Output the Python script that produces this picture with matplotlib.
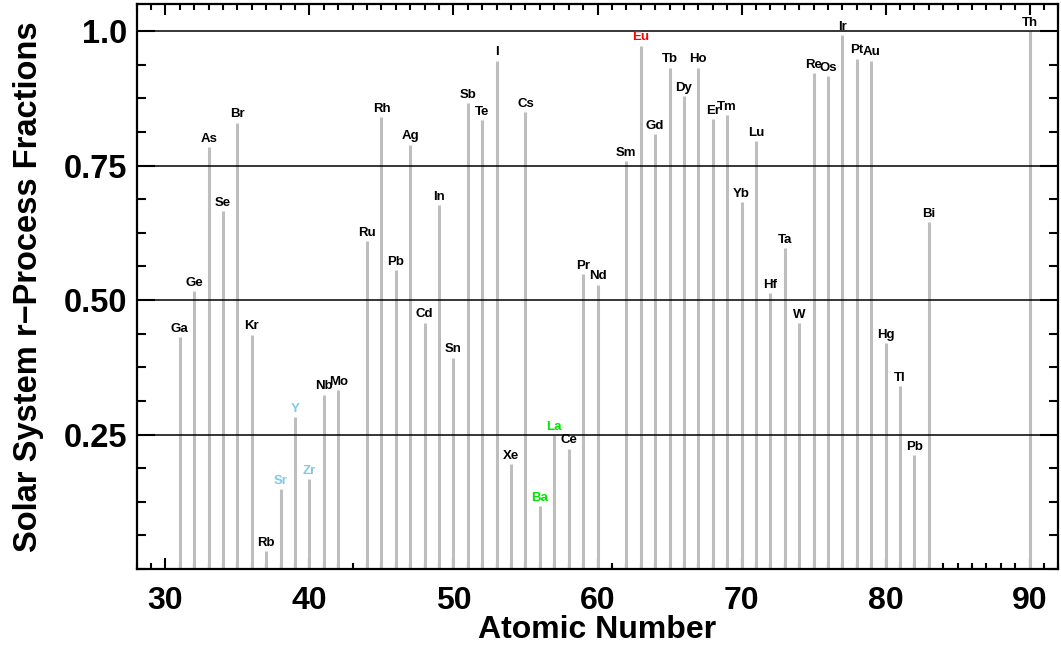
import numpy as np
import matplotlib.pyplot as plt
from matplotlib.ticker import MultipleLocator

plt.rcParams['font.family'] = ['Liberation Sans', 'DejaVu Sans']
plt.rcParams['font.weight'] = 'bold'

# atomic numbers, symbols and r-process fractions
Z = [31, 32, 33, 34, 35, 36, 37, 38, 39, 40, 41, 42,
     44, 45, 46, 47, 48, 49, 50, 51, 52, 53, 54, 55, 56, 57, 58, 59, 60,
     62, 63, 64, 65, 66, 67, 68, 69, 70, 71, 72, 73, 74,
     75, 76, 77, 78, 79, 80, 81, 82, 83, 90]
elements = ['Ga', 'Ge', 'As', 'Se', 'Br', 'Kr', 'Rb', 'Sr', 'Y', 'Zr', 'Nb', 'Mo',
            'Ru', 'Rh', 'Pb', 'Ag', 'Cd', 'In', 'Sn', 'Sb', 'Te', 'I', 'Xe', 'Cs',
            'Ba', 'La', 'Ce', 'Pr', 'Nd',
            'Sm', 'Eu', 'Gd', 'Tb', 'Dy', 'Ho', 'Er', 'Tm', 'Yb', 'Lu', 'Hf', 'Ta', 'W',
            'Re', 'Os', 'Ir', 'Pt', 'Au', 'Hg', 'Tl', 'Pb', 'Bi', 'Th']
fractions = [0.431, 0.516, 0.785, 0.666, 0.830, 0.436, 0.033, 0.148, 0.282, 0.167, 0.324, 0.332,
             0.610, 0.840, 0.556, 0.789, 0.458, 0.676, 0.393, 0.866, 0.835, 0.945, 0.195, 0.849,
             0.117, 0.249, 0.224, 0.548, 0.529,
             0.758, 0.973, 0.809, 0.932, 0.879, 0.932, 0.837, 0.844, 0.682, 0.795, 0.513, 0.597, 0.457,
             0.922, 0.916, 0.992, 0.949, 0.945, 0.420, 0.340, 0.212, 0.645, 1.000]

# highlighted element labels
highlight = {'Sr': '#7ec8ec', 'Y': '#7ec8ec', 'Zr': '#7ec8ec',
             'Ba': '#00e600', 'La': '#00e600', 'Eu': '#ff0000'}

yticks = [0.25, 0.50, 0.75, 1.0]
yticklabels = ['0.25', '0.50', '0.75', '1.0']

fig = plt.figure(figsize=(10.61, 6.52), dpi=100)
ax = fig.add_axes([0.1288, 0.1273, 0.8687, 0.8661])

ax.vlines(Z, 0, fractions, color='#bebebe', lw=2.2, zorder=2)
for y in yticks:
    ax.axhline(y, color='black', lw=1.1, zorder=3)

for z, el, f in zip(Z, elements, fractions):
    ax.annotate(el, (z, f), xytext=(0, 3.8), textcoords='offset points',
                ha='center', va='baseline', fontsize=9.5, fontweight='bold',
                color=highlight.get(el, 'black'), zorder=4)

ax.set_xlim(28, 92)
ax.set_ylim(0, 1.05)
ax.xaxis.set_major_locator(MultipleLocator(10))
ax.xaxis.set_minor_locator(MultipleLocator(1))
ax.set_yticks(yticks)
ax.set_yticklabels(yticklabels)
ax.yaxis.set_minor_locator(MultipleLocator(0.0625))

ax.tick_params(axis='both', which='both', direction='in', top=True, right=True, width=1.5)
ax.tick_params(axis='x', which='major', length=8, labelsize=23, pad=12)
ax.tick_params(axis='x', which='minor', length=4.3)
ax.tick_params(axis='y', which='major', length=13, labelsize=23.5, pad=7)
ax.tick_params(axis='y', which='minor', length=6.5)
for lab in ax.get_xticklabels() + ax.get_yticklabels():
    lab.set_fontweight('bold')

for s in ax.spines.values():
    s.set_linewidth(1.6)

ax.set_xlabel('Atomic Number', fontsize=23, fontweight='bold', va='top')
ax.xaxis.set_label_coords(0.5, -0.082)
ax.set_ylabel('Solar System r\u2212Process Fractions', fontsize=23.5, fontweight='bold')
ax.yaxis.set_label_coords(-0.1006, 0.5)

fig.savefig('out.png', dpi=100)
